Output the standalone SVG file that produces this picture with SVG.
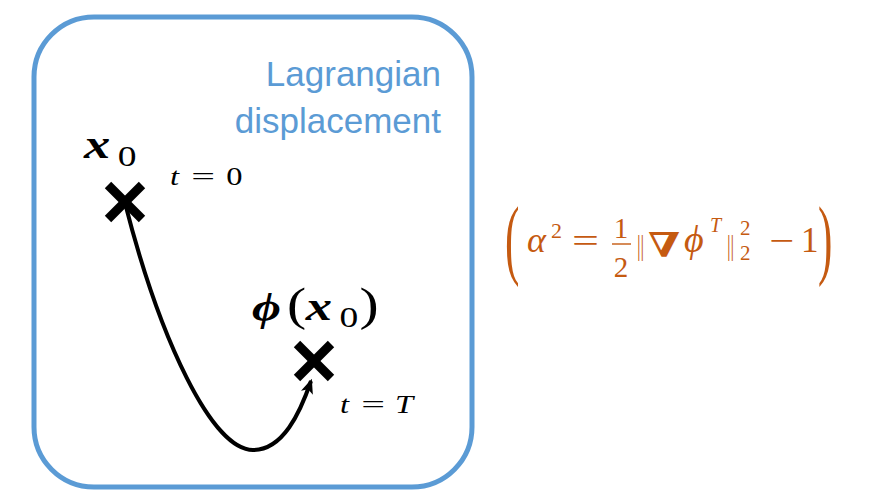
<svg xmlns="http://www.w3.org/2000/svg" width="882" height="494" viewBox="0 0 882 494">
<defs>
<marker id="arr" viewBox="0 0 12 12" refX="10" refY="6" markerWidth="15" markerHeight="15" markerUnits="userSpaceOnUse" orient="auto">
<path d="M0,1 L12,6 L0,11 L3,6 Z" fill="#000"/>
</marker>
</defs>
<style>
.m{font-family:"Liberation Serif","DejaVu Serif",serif;fill:#000}
.f{font-family:"Liberation Serif","DejaVu Serif",serif;fill:#C55A11}
.dv{font-family:"DejaVu Serif",serif}
.i{font-style:italic}
.b{font-weight:bold}
.lbl{font-family:"Liberation Sans","Open Sans",sans-serif;font-size:35px;fill:#5B9BD5;text-anchor:end}
.cross{stroke:#000;stroke-width:9;stroke-linecap:butt}
</style>
<rect width="882" height="494" fill="#fff"/>
<g id="box">
<rect x="34" y="17" width="438" height="470" rx="60" ry="60" fill="none" stroke="#5B9BD5" stroke-width="5"/>
<text class="lbl" x="441" y="86">Lagrangian</text>
<text class="lbl" x="441" y="133">displacement</text>
</g>
<g id="connectors">
<path d="M125,203 C160,340 212,450 253,450 C283,450 300,413 311,381" fill="none" stroke="#000" stroke-width="4" marker-end="url(#arr)"/>
</g>
<g id="start">
<line class="cross" x1="108" y1="185" x2="142" y2="219"/>
<line class="cross" x1="142" y1="185" x2="108" y2="219"/>
<text class="m" transform="translate(84,158) scale(1.25,1)"><tspan class="i b" font-size="42">x</tspan><tspan x="27" y="8" font-size="30">0</tspan></text>
<text class="m" transform="translate(170,185) scale(1.25,1)" font-size="26"><tspan class="i" x="0">t</tspan><tspan x="17" textLength="19" lengthAdjust="spacingAndGlyphs">=</tspan><tspan x="45">0</tspan></text>
</g>
<g id="end">
<line class="cross" x1="297" y1="344" x2="331" y2="378"/>
<line class="cross" x1="331" y1="344" x2="297" y2="378"/>
<text class="m" transform="translate(252,320) scale(1.25,1)"><tspan class="i b" font-size="40" x="0">ϕ</tspan><tspan font-size="46" x="28">(</tspan><tspan class="i b" font-size="42" x="43">x</tspan><tspan font-size="30" x="70" y="7">0</tspan><tspan font-size="46" x="86" y="0">)</tspan></text>
<text class="m" transform="translate(340,413) scale(1.25,1)" font-size="26"><tspan class="i" x="0">t</tspan><tspan x="17" textLength="19" lengthAdjust="spacingAndGlyphs">=</tspan><tspan class="i" x="44">T</tspan></text>
</g>
<g id="formula">
<text class="f" transform="translate(505,268) scale(0.9,1.85)" font-size="48">(</text>
<text class="f i" x="527" y="252" font-size="36">α</text>
<text class="f" x="551" y="238" font-size="22">2</text>
<text class="f" x="572" y="252" font-size="34" textLength="27" lengthAdjust="spacingAndGlyphs">=</text>
<text class="f" x="621" y="238" font-size="29" text-anchor="middle">1</text>
<line x1="612" y1="244" x2="631" y2="244" stroke="#C55A11" stroke-width="1.4"/>
<text class="f" x="621" y="277" font-size="29" text-anchor="middle">2</text>
<text class="f" transform="translate(637,255) scale(0.6,1)" font-size="30" font-family="Liberation Serif">||</text>
<text class="f b dv" x="648" y="257" font-size="34" textLength="32" lengthAdjust="spacingAndGlyphs">∇</text>
<text class="f i" x="684" y="252" font-size="38">ϕ</text>
<text class="f i" x="710" y="232" font-size="20">T</text>
<text class="f" transform="translate(727,255) scale(0.6,1)" font-size="30" font-family="Liberation Serif">||</text>
<text class="f" x="740" y="235" font-size="21">2</text>
<text class="f" x="740" y="260" font-size="21">2</text>
<text class="f" x="769" y="252" font-size="34" textLength="25" lengthAdjust="spacingAndGlyphs">−</text>
<text class="f" x="801" y="252" font-size="35">1</text>
<text class="f" transform="translate(818,268) scale(0.9,1.85)" font-size="48">)</text>
</g>
</svg>
